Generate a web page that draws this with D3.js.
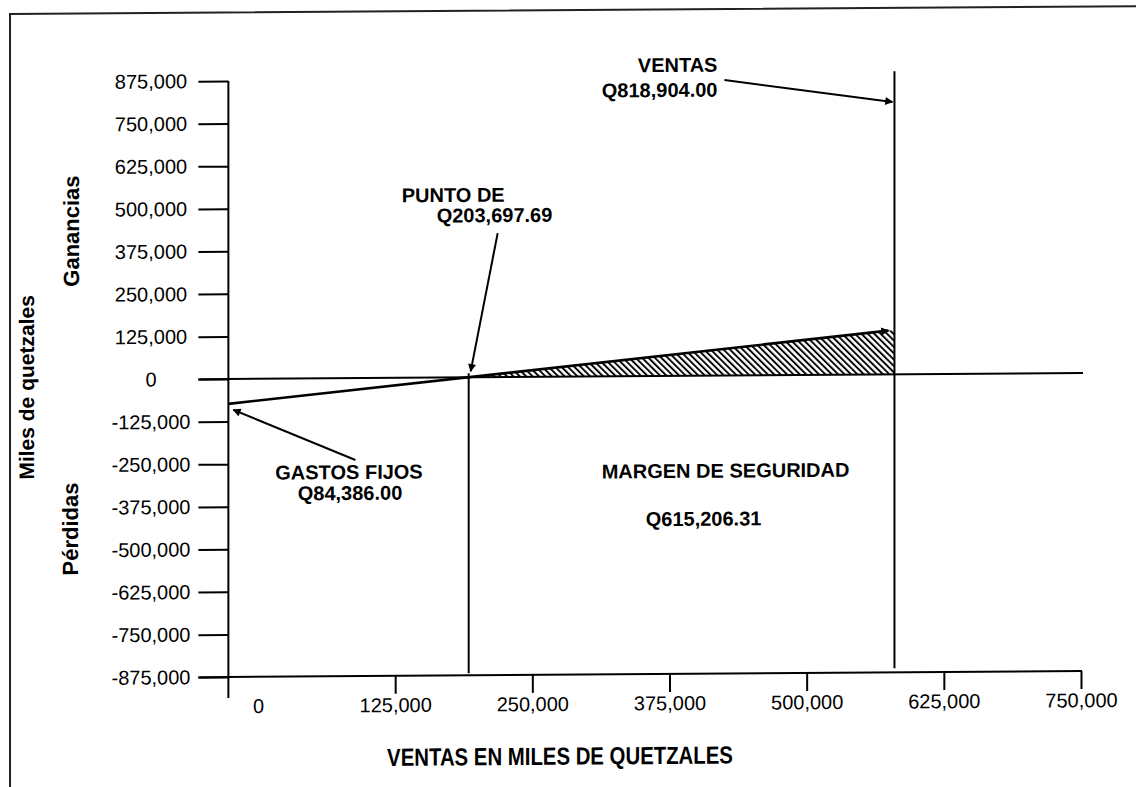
<!DOCTYPE html>
<html><head><meta charset="utf-8">
<script src="https://cdn.jsdelivr.net/npm/d3@7"></script>
<style>
html,body{margin:0;padding:0;background:#fff;}
svg{display:block;}
text{font-family:"Liberation Sans",Arial,sans-serif;fill:#000;}
</style></head><body>
<svg id="chart" width="1136" height="787"></svg>
<script>
// ---------------- data ----------------
const yTickValues = [875000, 750000, 625000, 500000, 375000, 250000, 125000, 0,
  -125000, -250000, -375000, -500000, -625000, -750000, -875000];
const xTickValues = [0, 125000, 250000, 375000, 500000, 625000, 750000];
const xDomain = [0, 750000];
const yDomain = [-875000, 875000];
const xAxisStart = -27000;            // where the vertical axis sits
// profit line as drawn (sales, result)
const profitSales = [-27000, 580000];
const profitResult = [-73000, 130000];
const breakEvenSales = 192000;        // drawn position of break-even line
const salesLevel = 580000;            // drawn position of sales line
const salesLineTop = 890000;
const ventasArrowTarget = 800000;
const annotationLabels = ["VENTAS", "Q818,904.00", "PUNTO DE", "Q203,697.69",
  "GASTOS FIJOS", "Q84,386.00", "MARGEN DE SEGURIDAD", "Q615,206.31"];
const sideLabels = ["Ganancias", "Miles de quetzales", "Pérdidas"];
const xTitle = "VENTAS EN MILES DE QUETZALES";

// ---------------- drawing ----------------
const svg = d3.select("#chart");
const x = d3.scaleLinear().domain(xDomain).range([258, 1081]);
const y = d3.scaleLinear().domain(yDomain).range([677, 81]);
const fmt = d => d3.format(",")(d).replace("\u2212", "-");

const defs = svg.append("defs");
defs.append("pattern").attr("id", "hatch").attr("patternUnits", "userSpaceOnUse")
  .attr("width", 4.5).attr("height", 4.5).attr("patternTransform", "rotate(-45)")
  .append("line").attr("x1", 1).attr("y1", 0).attr("x2", 1).attr("y2", 4.5)
  .attr("stroke", "#000").attr("stroke-width", 1.9);
defs.append("marker").attr("id", "arr").attr("viewBox", "0 0 10 10")
  .attr("refX", 9).attr("refY", 5).attr("markerWidth", 10).attr("markerHeight", 8)
  .attr("markerUnits", "userSpaceOnUse").attr("orient", "auto")
  .append("path").attr("d", "M0,0 L10,5 L0,10 Z").attr("fill", "#000");

// whole scan is slightly sheared
const g = svg.append("g").attr("transform", "translate(0,1.6) skewY(-0.4)");

// frame
g.append("path").attr("d", "M10,790 L10,12.5 L1140,12.5")
  .attr("fill", "none").attr("stroke", "#222").attr("stroke-width", 2);

const ax = x(xAxisStart);
const y0 = y(0);
const yBottom = y(yDomain[0]);

// hatched safety margin
const area = [[breakEvenSales, 0], [salesLevel, profitResult[1]], [salesLevel, 0]];
g.append("path")
  .attr("d", "M" + area.map(p => [x(p[0]), y(p[1])].join(",")).join("L") + "Z")
  .attr("fill", "url(#hatch)");

// y axis
const yAxis = d3.axisLeft(y).tickValues(yTickValues).tickSize(30).tickFormat(fmt);
const gy = g.append("g").attr("transform", `translate(${ax},0)`).call(yAxis);
gy.select(".domain").remove();
gy.selectAll(".tick line").attr("stroke", "#000").attr("stroke-width", 2);
gy.selectAll(".tick text").attr("x", 151 - ax).attr("text-anchor", "middle")
  .attr("font-size", 20).attr("font-family", "Liberation Sans, Arial, sans-serif").attr("fill", "#111");
g.append("line").attr("x1", ax).attr("x2", ax).attr("y1", y(yDomain[1])).attr("y2", yBottom + 21)
  .attr("stroke", "#000").attr("stroke-width", 2);

// x axis
const xAxis = d3.axisBottom(x).tickValues(xTickValues).tickSize(18).tickPadding(4).tickFormat(fmt);
const gx = g.append("g").attr("transform", `translate(0,${yBottom})`).call(xAxis);
gx.select(".domain").remove();
gx.selectAll(".tick line").attr("stroke", "#000").attr("stroke-width", 2)
  .filter(d => d === 0).remove();
gx.selectAll(".tick text").attr("font-size", 20)
  .attr("font-family", "Liberation Sans, Arial, sans-serif").attr("fill", "#111");
g.append("line").attr("x1", ax - 30).attr("x2", x(xDomain[1]) + 1).attr("y1", yBottom).attr("y2", yBottom)
  .attr("stroke", "#000").attr("stroke-width", 2);

// zero line
g.append("line").attr("x1", ax - 30).attr("x2", x(xDomain[1]) + 2).attr("y1", y0).attr("y2", y0)
  .attr("stroke", "#000").attr("stroke-width", 2);

// break-even vertical & sales vertical
g.append("line").attr("x1", x(breakEvenSales)).attr("x2", x(breakEvenSales))
  .attr("y1", y0 - 4).attr("y2", yBottom - 2).attr("stroke", "#000").attr("stroke-width", 2);
g.append("line").attr("x1", x(salesLevel)).attr("x2", x(salesLevel))
  .attr("y1", y(salesLineTop)).attr("y2", yBottom - 4).attr("stroke", "#000").attr("stroke-width", 2);

// profit line
g.append("line")
  .attr("x1", x(profitSales[0])).attr("y1", y(profitResult[0]))
  .attr("x2", x(profitSales[1]) - 6).attr("y2", y(profitResult[1]) + 0.5)
  .attr("stroke", "#000").attr("stroke-width", 2.6).attr("marker-end", "url(#arr)");

// annotations
const bx = x(breakEvenSales), sx = x(salesLevel);
const bold = sel => sel.attr("font-weight", "bold").attr("font-size", 20);
bold(g.append("text").attr("x", sx - 177).attr("y", 75).attr("text-anchor", "end").text(annotationLabels[0]));
bold(g.append("text").attr("x", sx - 177).attr("y", 100).attr("text-anchor", "end").text(annotationLabels[1]));
g.append("line").attr("x1", sx - 170).attr("y1", 83.5).attr("x2", sx - 2).attr("y2", y(ventasArrowTarget))
  .attr("stroke", "#000").attr("stroke-width", 2).attr("marker-end", "url(#arr)");

bold(g.append("text").attr("x", bx - 67).attr("y", y0 - 175.5).text(annotationLabels[2]));
bold(g.append("text").attr("x", bx - 32).attr("y", y0 - 155).text(annotationLabels[3]));
g.append("line").attr("x1", bx + 29).attr("y1", y0 - 144).attr("x2", bx + 2).attr("y2", y0 - 6)
  .attr("stroke", "#000").attr("stroke-width", 2).attr("marker-end", "url(#arr)");

const fy = y(profitResult[0]);
bold(g.append("text").attr("x", 349).attr("y", fy + 76).attr("text-anchor", "middle").text(annotationLabels[4]));
bold(g.append("text").attr("x", 350).attr("y", fy + 97).attr("text-anchor", "middle").text(annotationLabels[5]));
g.append("line").attr("x1", ax + 127).attr("y1", fy + 57).attr("x2", ax + 5).attr("y2", fy + 6)
  .attr("stroke", "#000").attr("stroke-width", 2).attr("marker-end", "url(#arr)");

const mx = (bx + sx) / 2 + 44;
bold(g.append("text").attr("x", mx).attr("y", y0 + 102).attr("text-anchor", "middle").text(annotationLabels[6]));
bold(g.append("text").attr("x", mx - 22).attr("y", y0 + 150).attr("text-anchor", "middle").text(annotationLabels[7]));

// side labels (rotated)
const rot = (cx, cy, txt, size) => g.append("text")
  .attr("transform", `translate(${cx},${cy}) rotate(-90)`).attr("dy", "0.36em")
  .attr("text-anchor", "middle").attr("font-weight", "bold").attr("font-size", size).text(txt);
rot(71, 230, sideLabels[0], 22);
rot(26, 386, sideLabels[1], 21);
rot(70, 528, sideLabels[2], 22);

// x title (condensed, taller lettering in the original)
g.append("text").attr("transform", "translate(560,767) scale(0.97,1.18)")
  .attr("text-anchor", "middle").attr("font-weight", "bold").attr("font-size", 21).text(xTitle);
</script>
</body></html>
